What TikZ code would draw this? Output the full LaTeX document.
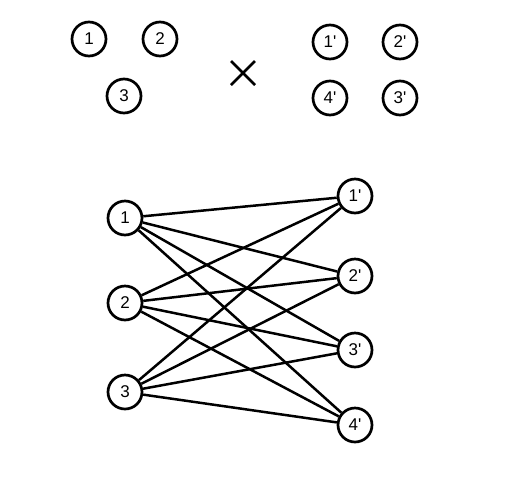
\documentclass[tikz,border=0pt]{standalone}
\usepackage{fontspec}
\setmainfont{Liberation Sans}[Ligatures=TeXOff]
\usepackage{tikz}

\begin{document}
\begin{tikzpicture}[x=1pt,y=-1pt,
  vtx/.style={circle,draw,line width=2.7pt,minimum size=34pt,inner sep=0pt,
    font=\fontsize{17}{20}\selectfont},
  edge/.style={line width=2.5pt}]
\useasboundingbox (0,0) rectangle (527,496);
% the two vertex sets
\node[vtx] (a1) at (89,39) {1};
\node[vtx] (a2) at (160,39) {2};
\node[vtx] (a3) at (124,96) {3};
\coordinate (times) at (243,73);
\draw[line width=2.5pt] (times) +(-12,-12) -- +(12,12) (times) +(-12,12) -- +(12,-12);
\node[vtx] (b1) at (330,42) {1'};
\node[vtx] (b2) at (400,42) {2'};
\node[vtx] (b4) at (330,98) {4'};
\node[vtx] (b3) at (400,98) {3'};
% their product as a bipartite graph
\node[vtx] (l1) at (125,218) {1};
\node[vtx] (l2) at (125,303) {2};
\node[vtx] (l3) at (125,392) {3};
\node[vtx] (r1) at (355,196) {1'};
\node[vtx] (r2) at (355,276) {2'};
\node[vtx] (r3) at (355,350) {3'};
\node[vtx] (r4) at (355,425) {4'};
\draw[edge] (l1) -- (r1) (l1) -- (r2) (l1) -- (r3) (l1) -- (r4);
\draw[edge] (l2) -- (r1) (l2) -- (r2) (l2) -- (r3) (l2) -- (r4);
\draw[edge] (l3) -- (r1) (l3) -- (r2) (l3) -- (r3) (l3) -- (r4);
\end{tikzpicture}
\end{document}
